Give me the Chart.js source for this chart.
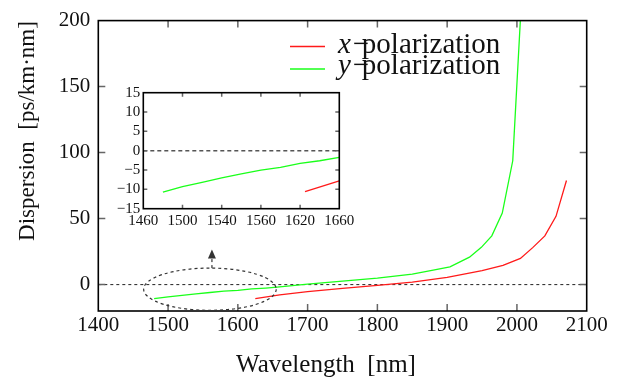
<!DOCTYPE html>
<html>
<head>
<meta charset="utf-8">
<script src="https://cdn.jsdelivr.net/npm/chart.js@4.4.0/dist/chart.umd.min.js"></script>
<style>
  body { margin: 0; background: #fff; }
  #wrap { position: relative; width: 624px; height: 380px; }
  #main { position: absolute; left: 0; top: 0; }
  #inset { position: absolute; left: 95px; top: 80px; }
</style>
</head>
<body>
<div id="wrap">
  <canvas id="main" width="624" height="380"></canvas>
  <canvas id="inset" width="265" height="155"></canvas>
</div>
<script>
// dispersion curves
const redName = 'x';
const greenName = 'y';
const redWave = [1625, 1660, 1700, 1750, 1800, 1850, 1900, 1950, 1980, 2005, 2023, 2040, 2056, 2071];
const redDisp = [-10.6, -7.8, -5.4, -2.8, -0.6, 1.8, 5.4, 10.6, 14.6, 19.8, 28.2, 36.9, 51.7, 78.9];
const greenWave = [1480, 1500, 1520, 1540, 1560, 1580, 1600, 1620, 1640, 1660, 1700, 1750, 1800, 1850, 1880, 1904, 1932, 1949, 1964, 1979, 1994, 2009];
const greenDisp = [-10.7, -9.3, -8.2, -7.0, -6.0, -5.0, -4.3, -3.3, -2.6, -1.7, 0.4, 2.6, 4.9, 7.9, 10.9, 13.4, 20.8, 28.2, 36.9, 54.2, 93.8, 240];

const xTicks = [1400, 1500, 1600, 1700, 1800, 1900, 2000, 2100];
const yTicks = [0, 50, 100, 150, 200];
const insetXTicks = [1460, 1500, 1540, 1580, 1620, 1660];
const insetXLabels = ['1460', '1500', '1540', '1560', '1620', '1660'];
const insetYTicks = [-15, -10, -5, 0, 5, 10, 15];

const serif = "'Liberation Serif', 'Times New Roman', serif";
const RED = '#ff1a1a';
const GREEN = '#1aff1a';

function pts(xs, ys) {
  return xs.map((x, i) => ({x: x, y: ys[i]}));
}

function series() {
  return [
    {data: pts(redWave, redDisp), borderColor: RED, borderWidth: 1.3, showLine: true, pointRadius: 0, tension: 0},
    {data: pts(greenWave, greenDisp), borderColor: GREEN, borderWidth: 1.3, showLine: true, pointRadius: 0, tension: 0}
  ];
}

function minus(v) {
  return v < 0 ? '\u2212' + Math.abs(v) : String(v);
}

// zero line, inward ticks and box
function boxPlugin(o) {
  return {
    id: 'box',
    beforeDatasetsDraw(chart) {
      const {ctx, chartArea: a, scales: {x, y}} = chart;
      ctx.save();
      const y0 = y.getPixelForValue(0);
      ctx.setLineDash(o.dash);
      ctx.strokeStyle = o.zeroColor;
      ctx.lineWidth = o.zeroWidth;
      ctx.beginPath();
      ctx.moveTo(a.left, y0);
      ctx.lineTo(a.right, y0);
      ctx.stroke();
      ctx.setLineDash([]);
      ctx.strokeStyle = '#666';
      ctx.lineWidth = 1.5;
      ctx.beginPath();
      x.ticks.forEach(t => {
        const px = x.getPixelForValue(t.value);
        if (px < a.left + 2 || px > a.right - 2) return;
        ctx.moveTo(px, a.bottom); ctx.lineTo(px, a.bottom - o.tick);
        ctx.moveTo(px, a.top); ctx.lineTo(px, a.top + o.tick);
      });
      y.ticks.forEach(t => {
        const py = y.getPixelForValue(t.value);
        if (py < a.top + 2 || py > a.bottom - 2) return;
        ctx.moveTo(a.left, py); ctx.lineTo(a.left + o.tick, py);
        ctx.moveTo(a.right, py); ctx.lineTo(a.right - o.tick, py);
      });
      ctx.stroke();
      ctx.restore();
    },
    afterDatasetsDraw(chart) {
      const {ctx, chartArea: a} = chart;
      ctx.save();
      ctx.strokeStyle = '#000';
      ctx.lineWidth = 1.6;
      ctx.strokeRect(a.left, a.top, a.right - a.left, a.bottom - a.top);
      ctx.restore();
    }
  };
}

// titles, legend, zoom ellipse and arrow on the main plot
const decorPlugin = {
  id: 'decor',
  afterDatasetsDraw(chart) {
    const {ctx, scales: {x, y}} = chart;
    ctx.save();

    // ellipse around the inset region
    const cx = x.getPixelForValue(1560), cy = y.getPixelForValue(-3.5);
    const rx = x.getPixelForValue(1560 + 95) - cx;
    const ry = cy - y.getPixelForValue(-3.5 + 16);
    ctx.strokeStyle = '#333';
    ctx.lineWidth = 1.2;
    ctx.setLineDash([3, 3]);
    ctx.beginPath();
    ctx.ellipse(cx, cy, rx, ry, 0, 0, Math.PI * 2);
    ctx.stroke();
    const tipY = y.getPixelForValue(26.5);
    ctx.beginPath();
    ctx.moveTo(cx + 2, cy - ry);
    ctx.lineTo(cx + 2, tipY + 9);
    ctx.stroke();
    ctx.setLineDash([]);
    ctx.fillStyle = '#333';
    ctx.beginPath();
    ctx.moveTo(cx + 2, tipY);
    ctx.lineTo(cx - 2, tipY + 9);
    ctx.lineTo(cx + 6, tipY + 9);
    ctx.closePath();
    ctx.fill();

    // legend
    const rows = [[redName, RED, 46.5, 52.5], [greenName, GREEN, 69, 73.5]];
    rows.forEach(([name, col, ly, base]) => {
      ctx.strokeStyle = col;
      ctx.lineWidth = 1.3;
      ctx.beginPath();
      ctx.moveTo(290, ly);
      ctx.lineTo(325, ly);
      ctx.stroke();
      ctx.fillStyle = '#111';
      ctx.textBaseline = 'alphabetic';
      ctx.textAlign = 'left';
      ctx.font = 'italic 29px ' + serif;
      ctx.fillText(name, 338, base);
      const w = ctx.measureText(name).width;
      ctx.font = '29px ' + serif;
      ctx.fillText('\u2212', 338 + w + 2, base);
      ctx.fillText('polarization', 338 + w + 11, base);
    });

    // axis titles
    ctx.fillStyle = '#111';
    ctx.textAlign = 'center';
    ctx.textBaseline = 'middle';
    ctx.font = '25px ' + serif;
    ctx.fillText('Wavelength  [nm]', 326, 365);
    ctx.font = '23px ' + serif;
    ctx.translate(28, 131);
    ctx.rotate(-Math.PI / 2);
    ctx.fillText('Dispersion  [ps/km\u00b7nm]', 0, 0);
    ctx.restore();
  }
};

new Chart(document.getElementById('main'), {
  type: 'scatter',
  data: {datasets: series()},
  options: {
    responsive: false,
    animation: false,
    layout: {padding: {top: 15, right: 37.3, left: 0, bottom: 0}},
    plugins: {legend: {display: false}, tooltip: {enabled: false}},
    scales: {
      x: {
        type: 'linear', min: 1400, max: 2100,
        afterBuildTicks: s => { s.ticks = xTicks.map(v => ({value: v})); },
        afterFit: s => { s.height = 69; },
        grid: {display: false, drawTicks: false},
        border: {display: false},
        ticks: {color: '#111', padding: 2, font: {family: serif, size: 21}, maxRotation: 0, autoSkip: false,
          callback: v => String(v)}
      },
      y: {
        min: -20, max: 200,
        afterBuildTicks: s => { s.ticks = yTicks.map(v => ({value: v})); },
        afterFit: s => { s.width = 98.3; },
        grid: {display: false, drawTicks: false},
        border: {display: false},
        ticks: {color: '#111', padding: 8, font: {family: serif, size: 21}, autoSkip: false,
          callback: v => String(v)}
      }
    }
  },
  plugins: [boxPlugin({dash: [3, 3], zeroColor: '#222', zeroWidth: 1, tick: 7}), decorPlugin]
});

new Chart(document.getElementById('inset'), {
  type: 'scatter',
  data: {datasets: series()},
  options: {
    responsive: false,
    animation: false,
    layout: {padding: {top: 12.7, right: 20.7, left: 0, bottom: 0}},
    plugins: {legend: {display: false}, tooltip: {enabled: false}},
    scales: {
      x: {
        type: 'linear', min: 1460, max: 1660,
        afterBuildTicks: s => { s.ticks = insetXTicks.map(v => ({value: v})); },
        afterFit: s => { s.height = 26.3; },
        grid: {display: false, drawTicks: false},
        border: {display: false},
        ticks: {
          color: '#111', padding: 3, font: {family: serif, size: 15}, maxRotation: 0, autoSkip: false,
          callback: (v, i) => insetXLabels[i]
        }
      },
      y: {
        min: -15, max: 15,
        afterBuildTicks: s => { s.ticks = insetYTicks.map(v => ({value: v})); },
        afterFit: s => { s.width = 48.3; },
        grid: {display: false, drawTicks: false},
        border: {display: false},
        ticks: {color: '#111', padding: 3, font: {family: serif, size: 15}, autoSkip: false,
          callback: v => minus(v)}
      }
    }
  },
  plugins: [boxPlugin({dash: [4, 3], zeroColor: '#555', zeroWidth: 1.5, tick: 4})]
});
</script>
</body>
</html>
